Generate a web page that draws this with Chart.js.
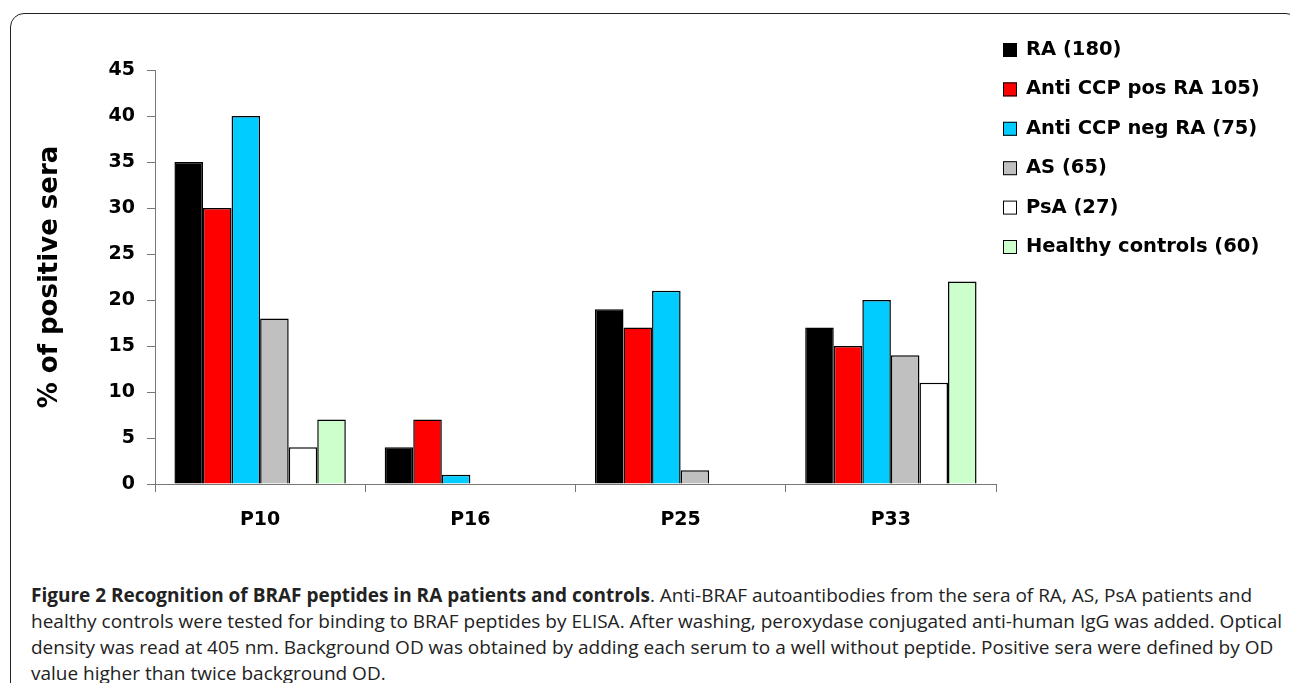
<!DOCTYPE html>
<html>
<head>
<meta charset="utf-8">
<script src="https://cdn.jsdelivr.net/npm/chart.js@4.4.0/dist/chart.umd.min.js"></script>
<style>
  html, body { margin: 0; padding: 0; background: #fff; overflow: hidden; }
  body { width: 1290px; height: 683px; position: relative; }
  #frame {
    position: absolute; left: 10px; top: 13px; width: 1290px; height: 720px;
    border: 1.5px solid #222; border-radius: 14px; box-sizing: border-box;
  }
  #chart { position: absolute; left: 0; top: 0; }
  #caption {
    position: absolute; left: 31px; top: 582px; width: 1255px; white-space: nowrap;
    font-family: "Open Sans", sans-serif; font-size: 19px; line-height: 26px; color: #222;
  }
  #caption b { font-weight: 700; }
</style>
</head>
<body>
<div id="frame"></div>
<canvas id="chart" width="1290" height="545"></canvas>
<div id="caption"><b>Figure 2 Recognition of BRAF peptides in RA patients and controls</b>. Anti-BRAF autoantibodies from the sera of RA, AS, PsA patients and<br>healthy controls were tested for binding to BRAF peptides by ELISA. After washing, peroxydase conjugated anti-human IgG was added. Optical<br>density was read at 405 nm. Background OD was obtained by adding each serum to a well without peptide. Positive sera were defined by OD<br>value higher than twice background OD.</div>
<script>
        var peptides = ['P10', 'P16', 'P25', 'P33'];
        var groupNames = ['RA (180)', 'Anti CCP pos RA 105)', 'Anti CCP neg RA (75)', 'AS (65)', 'PsA (27)', 'Healthy controls (60)'];
        var groupColors = ['#000000', '#ff0000', '#00ccff', '#c0c0c0', '#ffffff', '#ccffcc'];

        var raValues = [35, 4, 19, 17];
        var ccpPosValues = [30, 7, 17, 15];
        var ccpNegValues = [40, 1, 21, 20];
        var asValues = [18, 0, 1.5, 14];
        var psaValues = [4, 0, 0, 11];
        var healthyValues = [7, 0, 0, 22];

        var yTicks = [0, 5, 10, 15, 20, 25, 30, 35, 40, 45];

        var allValues = [raValues, ccpPosValues, ccpNegValues, asValues, psaValues, healthyValues];
        var boldFont = 'DejaVu Sans';

        var datasets = allValues.map(function (vals, i) {
            return {
                label: groupNames[i],
                data: vals,
                backgroundColor: groupColors[i],
                borderColor: '#000000',
                borderWidth: 1.5,
                categoryPercentage: 0.815,
                barPercentage: 1.0
            };
        });

        // legend drawn on the right, one row per dataset
        var sideLegend = {
            id: 'sideLegend',
            afterDraw: function (chart) {
                var ctx = chart.ctx;
                ctx.save();
                ctx.font = 'bold 19.5px "' + boldFont + '"';
                ctx.textBaseline = 'middle';
                ctx.textAlign = 'left';
                chart.data.datasets.forEach(function (ds, i) {
                    var y = 50 + i * 39.4;
                    ctx.fillStyle = ds.backgroundColor;
                    ctx.fillRect(1003, y - 7, 14, 14);
                    ctx.strokeStyle = '#000';
                    ctx.lineWidth = 1;
                    ctx.strokeRect(1003.5, y - 6.5, 13, 13);
                    ctx.fillStyle = '#000';
                    ctx.fillText(ds.label, 1026, y);
                });
                ctx.restore();
            }
        };

        var ctx = document.getElementById('chart').getContext('2d');
        var braf = new Chart(ctx, {
            type: 'bar',
            data: { labels: peptides, datasets: datasets },
            plugins: [sideLegend],
            options: {
                responsive: false,
                animation: false,
                devicePixelRatio: 1,
                layout: { padding: { top: 70, right: 294, left: 0, bottom: 0 } },
                plugins: {
                    legend: { display: false },
                    tooltip: { enabled: false }
                },
                scales: {
                    x: {
                        afterFit: function (scale) { scale.height = 61; },
                        grid: { offset: true, drawOnChartArea: false, tickLength: 8, color: '#777', lineWidth: 1 },
                        border: { color: '#777', width: 1 },
                        ticks: { color: '#000', padding: 17, font: { family: boldFont, size: 19, weight: 'bold' } }
                    },
                    y: {
                        min: 0,
                        max: 45,
                        afterFit: function (scale) { scale.width = 155; },
                        afterBuildTicks: function (scale) {
                            scale.ticks = yTicks.map(function (v) { return { value: v }; });
                        },
                        grid: { drawOnChartArea: false, tickLength: 8, color: '#777', lineWidth: 1 },
                        border: { color: '#777', width: 1 },
                        ticks: { color: '#000', padding: 12, font: { family: boldFont, size: 19, weight: 'bold' } },
                        title: {
                            display: true,
                            text: '% of positive sera',
                            color: '#000',
                            padding: { top: 35, bottom: 0 },
                            font: { family: boldFont, size: 26, weight: 'bold' }
                        }
                    }
                }
            }
        });
</script>
</body>
</html>
